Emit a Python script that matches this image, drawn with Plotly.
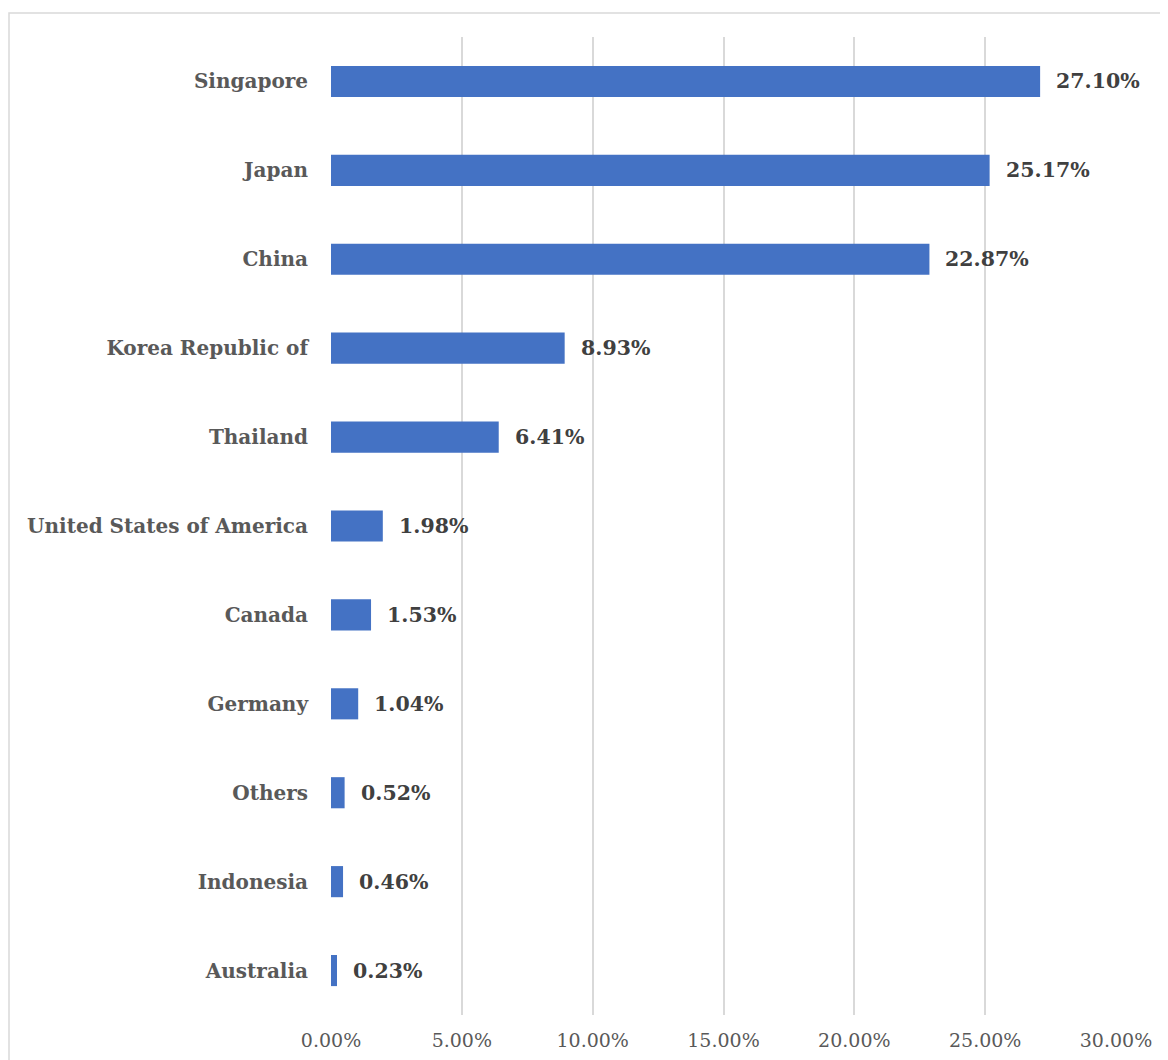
import plotly.graph_objects as go

categories = ["Singapore", "Japan", "China", "Korea Republic of", "Thailand",
              "United States of America", "Canada", "Germany", "Others",
              "Indonesia", "Australia"]
values = [27.10, 25.17, 22.87, 8.93, 6.41, 1.98, 1.53, 1.04, 0.52, 0.46, 0.23]
tick_vals = [0, 5, 10, 15, 20, 25, 30]
tick_text = ["0.00%", "5.00%", "10.00%", "15.00%", "20.00%", "25.00%", "30.00%"]

# page has an 8px body margin; figure is sized to fit inside the window
W, H = 1160, 1052
ML, MR, MT, MB = 323, 52, 29, 45

fig = go.Figure(go.Bar(
    x=values, y=categories, orientation="h",
    marker=dict(color="#4472C4", line=dict(width=0)),
    width=0.35, hoverinfo="skip",
))

for c, v in zip(categories, values):
    fig.add_annotation(x=v, y=c, text=f"<b>{v:.2f}%</b>", showarrow=False,
                       xanchor="left", yanchor="middle", xshift=14,
                       font=dict(family="DejaVu Serif", size=20.5, color="#404040"))

pw = W - ML - MR
ph = H - MT - MB
fig.add_shape(type="rect", xref="paper", yref="paper",
              x0=(1 - ML) / pw, x1=(W + 5 - ML) / pw,
              y0=-(H + 5 - MT - ph) / ph, y1=(H - 5 - MB) / ph,
              line=dict(color="#D9D9D9", width=1.5), layer="below")

fig.update_layout(
    width=W, height=H,
    margin=dict(l=ML, r=MR, t=MT, b=MB, autoexpand=False),
    plot_bgcolor="white", paper_bgcolor="white",
    showlegend=False,
    xaxis=dict(range=[0, 30], tickvals=tick_vals, ticktext=tick_text,
               showgrid=True, gridcolor="#D9D9D9", gridwidth=1.5,
               zeroline=False, showline=False, ticks="", automargin=False,
               ticklabelstandoff=12,
               tickfont=dict(family="DejaVu Serif", size=19, color="#595959")),
    yaxis=dict(categoryorder="array", categoryarray=categories[::-1],
               showgrid=False, zeroline=False, showline=False, ticks="",
               automargin=False, ticklabelstandoff=22,
               tickfont=dict(family="DejaVu Serif", size=20, color="#595959",
                             weight="bold")),
)

fig.write_html("out.html")
